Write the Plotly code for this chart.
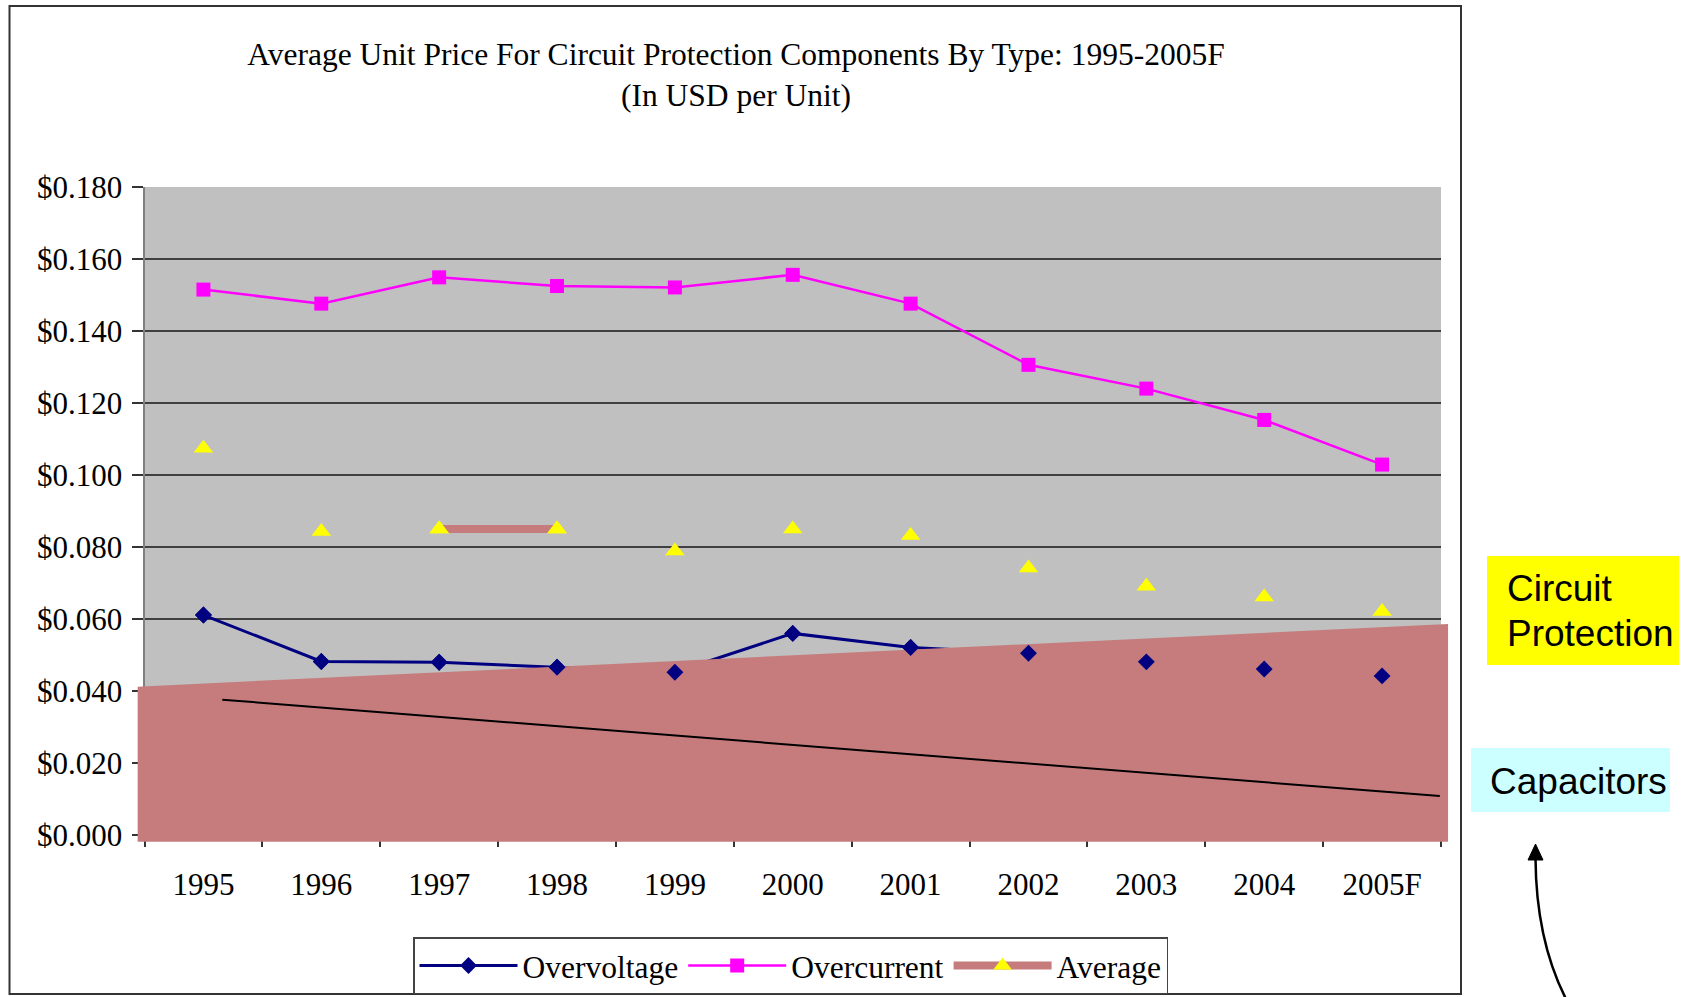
import plotly.graph_objects as go

# ---- data ----
years = ["1995", "1996", "1997", "1998", "1999", "2000", "2001", "2002", "2003", "2004", "2005F"]
overvoltage = [0.0611, 0.0482, 0.0480, 0.0466, 0.0452, 0.0560, 0.0521, 0.0505, 0.0481, 0.0461, 0.0442]
overcurrent = [0.1515, 0.1476, 0.1549, 0.1525, 0.1521, 0.1556, 0.1476, 0.1306, 0.1240, 0.1153, 0.1029]
average = [0.1074, 0.0843, 0.0850, 0.0850, 0.0789, 0.0850, 0.0832, 0.0742, 0.0691, 0.0661, 0.0621]
average_line_years = ["1997", "1998"]   # only stretch where the Average line shows

# pasted-over band and the black slope line (x in category index, y in USD)
band_x = [-0.558, 10.56, 10.56, -0.558]
band_y = [0.0412, 0.0586, -0.0019, -0.0019]
trend_x = [0.16, 10.49]
trend_y = [0.0376, 0.0108]

y_ticks = [0.0, 0.02, 0.04, 0.06, 0.08, 0.10, 0.12, 0.14, 0.16, 0.18]
y_tick_text = ["$%.3f" % v for v in y_ticks]

# ---- geometry (pixels) ----
W, H = 1691, 997
PLOT_L, PLOT_R, PLOT_T, PLOT_B = 144.5, 1441, 187, 835
M_L, M_R, M_T, M_B = 130, 236, 180, 152

SERIF = "Liberation Serif"
SANS = "Liberation Sans"
ROSE = "#C67C7C"
NAVY = "#000080"
MAGENTA = "#FF00FF"
YELLOW = "#FFFF00"


def px(x):
    return (x - M_L) / (W - M_L - M_R)


def py(y):
    return (H - M_B - y) / (H - M_T - M_B)


n = len(years)
x_idx = list(range(n))
ux = n / (PLOT_R - PLOT_L)
uy = y_ticks[-1] / (PLOT_B - PLOT_T)
avg_line = [v if yr in average_line_years else None for yr, v in zip(years, average)]

fig = go.Figure()

# under the band
fig.add_trace(go.Scatter(
    x=x_idx, y=overvoltage, name="Overvoltage", mode="lines+markers",
    line=dict(color=NAVY, width=3),
    marker=dict(symbol="diamond", size=13, color=NAVY),
    xaxis="x", yaxis="y", hoverinfo="skip",
))

# band and everything drawn over it
fig.add_trace(go.Scatter(
    x=band_x, y=band_y, fill="toself", fillcolor=ROSE, mode="lines",
    line=dict(width=0, color=ROSE), showlegend=False, hoverinfo="skip",
    xaxis="x2", yaxis="y2",
))
fig.add_trace(go.Scatter(
    x=trend_x, y=trend_y, mode="lines", line=dict(color="black", width=2),
    showlegend=False, hoverinfo="skip", xaxis="x2", yaxis="y2",
))
fig.add_trace(go.Scatter(
    x=x_idx, y=overcurrent, name="Overcurrent", mode="lines+markers",
    line=dict(color=MAGENTA, width=2.5),
    marker=dict(symbol="square", size=14, color=MAGENTA),
    xaxis="x2", yaxis="y2", hoverinfo="skip",
))
fig.add_trace(go.Scatter(
    x=x_idx, y=avg_line, name="Average", mode="lines+markers",
    line=dict(color=ROSE, width=8),
    marker=dict(symbol="triangle-up", size=17, color=YELLOW),
    connectgaps=False, xaxis="x2", yaxis="y2", hoverinfo="skip",
))
fig.add_trace(go.Scatter(
    x=x_idx, y=average, mode="markers", showlegend=False,
    marker=dict(symbol="triangle-up", size=17, color=YELLOW),
    xaxis="x2", yaxis="y2", hoverinfo="skip",
))
fig.add_trace(go.Scatter(
    x=x_idx, y=overvoltage, mode="markers", showlegend=False,
    marker=dict(symbol="diamond", size=13, color=NAVY),
    xaxis="x2", yaxis="y2", hoverinfo="skip",
))

fig.update_layout(
    width=W, height=H,
    margin=dict(l=M_L, r=M_R, t=M_T, b=M_B, autoexpand=False),
    paper_bgcolor="white",
    plot_bgcolor="rgba(0,0,0,0)",
    font=dict(family=SERIF, size=31, color="black"),
    title=dict(
        text="Average Unit Price For Circuit Protection Components By Type: 1995-2005F<br>(In USD per Unit)",
        font=dict(family=SERIF, size=31.5, color="black"),
        x=736 / W, xref="container", xanchor="center",
        y=1 - 65 / H, yref="container", yanchor="middle",
    ),
    xaxis=dict(
        domain=[px(PLOT_L), px(PLOT_R)], anchor="y",
        range=[-0.5, n - 0.5],
        tickmode="array", tickvals=x_idx, ticktext=years,
        ticks="", ticklabelstandoff=28,
        tickfont=dict(family=SERIF, size=31, color="black"),
        minor=dict(tickmode="array", tickvals=[i - 0.5 for i in range(n + 1)],
                   ticks="outside", ticklen=11, tickwidth=1.5, tickcolor="#333",
                   showgrid=False),
        showgrid=False, zeroline=False, showline=False,
    ),
    yaxis=dict(
        domain=[py(PLOT_B), py(PLOT_T)], anchor="x",
        range=[0, y_ticks[-1]],
        tickmode="array", tickvals=y_ticks, ticktext=y_tick_text,
        ticks="outside", ticklen=11, tickwidth=1.5, tickcolor="#333",
        ticklabelstandoff=3,
        tickfont=dict(family=SERIF, size=31, color="black"),
        showgrid=True, gridcolor="#404040", gridwidth=1.5,
        zeroline=False, showline=True, linecolor="#808080", linewidth=2,
    ),
    xaxis2=dict(
        domain=[0, 1], anchor="y2", visible=False,
        range=[-0.5 - (PLOT_L - M_L) * ux, n - 0.5 + (W - M_R - PLOT_R) * ux],
    ),
    yaxis2=dict(
        domain=[0, 1], anchor="x2", visible=False,
        range=[-(H - M_B - PLOT_B) * uy, y_ticks[-1] + (PLOT_T - M_T) * uy],
    ),
    showlegend=True,
    legend=dict(
        orientation="h", xref="container", yref="container",
        x=413 / W, y=1 - 937 / H, xanchor="left", yanchor="top",
        font=dict(family=SERIF, size=31.5, color="black"),
        bgcolor="white", bordercolor="#444", borderwidth=1.5,
        itemwidth=98, traceorder="normal",
    ),
    hovermode=False,
)

shapes = [
    # grey plot background
    dict(type="rect", xref="x domain", yref="y domain", x0=0, x1=1, y0=0, y1=1,
         fillcolor="#C0C0C0", line=dict(width=0), layer="below"),
    # outer chart frame
    dict(type="rect", xref="paper", yref="paper",
         x0=px(9.5), x1=px(1461), y0=py(994), y1=py(6),
         line=dict(color="#333", width=2), fillcolor="rgba(0,0,0,0)", layer="above"),
    # side labels
    dict(type="rect", xref="paper", yref="paper",
         x0=px(1487), x1=px(1679), y0=py(665), y1=py(556),
         fillcolor=YELLOW, line=dict(width=0), layer="above"),
    dict(type="rect", xref="paper", yref="paper",
         x0=px(1471), x1=px(1670), y0=py(812), y1=py(748),
         fillcolor="#CCFFFF", line=dict(width=0), layer="above"),
    # curved arrow
    dict(type="path", xref="paper", yref="paper",
         path=f"M {px(1566)},{py(999)} Q {px(1536)},{py(940)} {px(1535.5)},{py(858)}",
         line=dict(color="black", width=2.5), layer="above"),
    dict(type="path", xref="paper", yref="paper",
         path=f"M {px(1535.5)},{py(844)} L {px(1543)},{py(860)} L {px(1528)},{py(860)} Z",
         fillcolor="black", line=dict(color="black", width=1), layer="above"),
]
fig.update_layout(shapes=shapes)

side_labels = [("Circuit", 1505, 588), ("Protection", 1505, 633), ("Capacitors", 1488, 781)]
for text, lx, ly in side_labels:
    fig.add_annotation(
        text=text, xref="paper", yref="paper",
        x=px(lx), y=py(ly), xanchor="left", yanchor="middle", align="left",
        showarrow=False, font=dict(family=SANS, size=37, color="black"),
    )

fig.write_html("out.html", config={"displayModeBar": False},
               post_script="document.body.style.margin = '0';")
